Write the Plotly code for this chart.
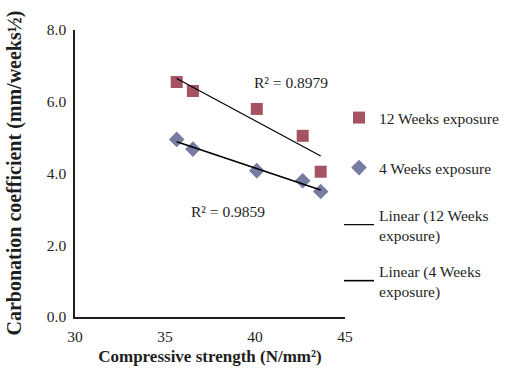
import numpy as np
import plotly.graph_objects as go

# Compressive strength (N/mm²) of each mix
strength = [35.65, 36.55, 40.1, 42.65, 43.65]
# Carbonation coefficients (mm/weeks½)
coef_12wk = [6.55, 6.30, 5.80, 5.05, 4.05]
coef_4wk = [4.95, 4.68, 4.08, 3.80, 3.50]

r2_12wk = "R² = 0.8979"
r2_4wk = "R² = 0.9859"

x_ticks = [30, 35, 40, 45]
y_ticks = [0, 2, 4, 6, 8]

SERIF = "Liberation Serif, Times New Roman, serif"
RED = "#943644"
BLUE = "#5F6590"
INK = "#1e1e1e"
W, H = 508, 374


def linear_fit(x, y):
    slope, intercept = np.polyfit(x, y, 1)
    xs = np.array([min(x), max(x)])
    return xs, slope * xs + intercept


fig = go.Figure()

fig.add_trace(go.Scatter(
    x=strength, y=coef_12wk, mode="markers", name="12 Weeks exposure",
    legend="legend",
    marker=dict(symbol="square", size=12, color=RED, opacity=0.85),
))
fig.add_trace(go.Scatter(
    x=strength, y=coef_4wk, mode="markers", name="4 Weeks exposure",
    legend="legend2",
    marker=dict(symbol="diamond", size=12, color=BLUE, opacity=0.85),
))

lx, ly = linear_fit(strength, coef_12wk)
fig.add_trace(go.Scatter(
    x=lx, y=ly, mode="lines", name="Linear (12 Weeks<br>exposure)",
    legend="legend3",
    line=dict(color="black", width=1.2),
))
lx, ly = linear_fit(strength, coef_4wk)
fig.add_trace(go.Scatter(
    x=lx, y=ly, mode="lines", name="Linear (4 Weeks<br>exposure)",
    legend="legend4",
    line=dict(color="black", width=1.6),
))

fig.add_annotation(x=42.0, y=6.55, text=r2_12wk, showarrow=False,
                   font=dict(family=SERIF, size=15.5, color=INK))
fig.add_annotation(x=38.5, y=2.95, text=r2_4wk, showarrow=False,
                   font=dict(family=SERIF, size=15.5, color=INK))

# vertical axis title
fig.add_annotation(xref="paper", yref="paper", x=-61 / 270, y=0.5,
                   xanchor="center", yanchor="middle",
                   text="<b>Carbonation coefficient (mm/weeks½)</b>",
                   textangle=-90, showarrow=False,
                   font=dict(family=SERIF, size=20, color=INK))


def legend_box(center_px):
    return dict(
        xref="container", yref="container",
        x=339 / W, xanchor="left", y=1 - center_px / H, yanchor="middle",
        itemwidth=30, bgcolor="rgba(0,0,0,0)",
        font=dict(family=SERIF, size=15.5, color=INK),
    )


fig.update_layout(
    width=W, height=H,
    margin=dict(l=75, r=163, t=30, b=57, autoexpand=False),
    paper_bgcolor="white", plot_bgcolor="white",
    font=dict(family=SERIF, size=15, color=INK),
    showlegend=True,
    legend=legend_box(118),
    legend2=legend_box(168),
    legend3=legend_box(225),
    legend4=legend_box(281),
    xaxis=dict(
        range=[30, 45], tickvals=x_ticks, showgrid=False, zeroline=False,
        showline=True, linecolor=INK, linewidth=1.5, ticks="outside",
        ticklen=5, tickcolor="rgba(0,0,0,0)",
        tickfont=dict(family=SERIF, size=15.5, color=INK),
        title=dict(text="<b>Compressive strength (N/mm²)</b>",
                   font=dict(family=SERIF, size=17, color=INK), standoff=6),
    ),
    yaxis=dict(
        range=[0, 8], tickvals=y_ticks, tickformat=".1f", showgrid=False,
        zeroline=False, showline=True, linecolor=INK, linewidth=1.5,
        ticks="outside", ticklen=4, tickcolor="rgba(0,0,0,0)",
        tickfont=dict(family=SERIF, size=15.5, color=INK),
    ),
)

fig.write_html("out.html")
